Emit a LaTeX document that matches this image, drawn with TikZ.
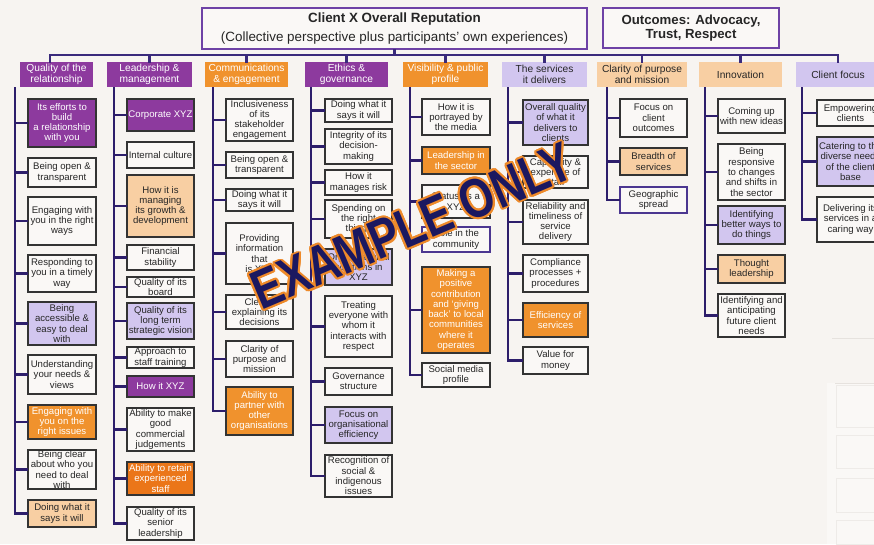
\documentclass[tikz,border=0pt]{standalone}
\usepackage{fontspec}
\setmainfont{Liberation Sans}
\usetikzlibrary{calc}
\definecolor{bg}{HTML}{F7F4F1}
\definecolor{cellbg}{HTML}{FAF8F6}
\definecolor{purp}{HTML}{8D3A9E}
\definecolor{orng}{HTML}{F0922D}
\definecolor{dorng}{HTML}{EB7619}
\definecolor{lav}{HTML}{D2C6EF}
\definecolor{peach}{HTML}{F8CFA3}
\definecolor{linkc}{HTML}{2D1E6B}
\definecolor{busc}{HTML}{3A2A7C}
\definecolor{titlebd}{HTML}{6E42A6}
\definecolor{bdr}{HTML}{333333}
\definecolor{txt}{HTML}{262626}
\definecolor{pbdr}{HTML}{4B3690}
\definecolor{wmn}{HTML}{1B1860}
\definecolor{wmo}{HTML}{EE8A2A}
\definecolor{faint}{HTML}{E6E2DE}
\tikzset{
  cell/.style={draw=bdr, line width=1.3pt, fill=cellbg, text=txt, align=center, inner sep=0pt,
    font=\fontsize{9.6}{10.3}\selectfont},
  cellP/.style={cell, fill=purp, text=white},
  cellO/.style={cell, fill=orng, text=white},
  cellD/.style={cell, fill=dorng, text=white},
  cellL/.style={cell, fill=lav},
  cellK/.style={cell, fill=peach},
  cellB/.style={cell, draw=pbdr},
  hdr/.style={draw=none, align=center, inner sep=0pt, font=\fontsize{10.2}{11}\selectfont},
  hdrP/.style={hdr, fill=purp, text=white},
  hdrO/.style={hdr, fill=orng, text=white},
  hdrL/.style={hdr, fill=lav, text=txt},
  hdrK/.style={hdr, fill=peach, text=txt},
  titlebox/.style={draw=titlebd, line width=2.4pt, fill=cellbg, text=txt, align=center, inner sep=0pt},
  titleA/.style={titlebox, font=\fontsize{13.4}{15}\selectfont},
  titleB/.style={titlebox, font=\fontsize{13.2}{14.5}\selectfont\bfseries},
  link/.style={draw=linkc, line width=2.2pt, line cap=rect},
  bus/.style={draw=busc, line width=2.5pt, line cap=rect},
  wmtext/.style={inner sep=0pt, font=\fontsize{55}{55}\selectfont\bfseries, rotate=23, xscale=0.8},
}
\newcommand\bx[7]{%
  \pgfmathsetmacro\cx{(#2+#4)/2}\pgfmathsetmacro\cy{(#3+#5)/2}%
  \pgfmathsetmacro\bw{#4-#2}\pgfmathsetmacro\bh{#5-#3}%
  \node[#6, minimum width=\bw pt, minimum height=\bh pt] (#1) at (\cx,\cy) {#7};}
\begin{document}
\begin{tikzpicture}[x=1pt,y=-1pt]
\useasboundingbox (0,0) rectangle (874,544);
\fill[bg] (0,0) rectangle (874,544);
% faint background remnants
\draw[faint, line width=0.8pt] (832,338) -- (874,338);
\fill[cellbg] (827,383) rectangle (874,544);
\draw[faint, line width=1pt] (835,383) -- (874,383);
\foreach \a/\b in {385/427,435/468,478/512,520/544}{\draw[faint!60!cellbg, line width=0.8pt] (836,\a) rectangle (880,\b);}
% title boxes
\bx{title}{202}{8}{587}{49}{titleA}{\bfseries Client X Overall Reputation\\[4pt](Collective perspective plus participants’ own experiences)}
\bx{outc}{603}{8}{779}{48}{titleB}{Outcomes: Advocacy,\\Trust, Respect}
% category headers
\bx{h1}{20}{62}{93}{87}{hdrP}{Quality of the\\relationship}
\bx{h2}{107}{62}{192}{87}{hdrP}{Leadership \&\\management}
\bx{h3}{205}{62}{288}{87}{hdrO}{Communications\\\& engagement}
\bx{h4}{305}{62}{388}{87}{hdrP}{Ethics \&\\governance}
\bx{h5}{403}{62}{488}{87}{hdrO}{Visibility \& public\\profile}
\bx{h6}{502}{62}{587}{87}{hdrL}{The services\\it delivers}
\bx{h7}{597}{62}{687}{87}{hdrK}{Clarity of purpose\\and mission}
\bx{h8}{699}{62}{782}{87}{hdrK}{Innovation}
\bx{h9}{796}{62}{880}{87}{hdrL}{Client focus}
% bus
\coordinate (busY) at (0,55);
\draw[bus] (h1.north -| 50,0) -- (50,55) -- (h9.north |- busY) -- (h9.north);
\foreach \h in {h2,h3,h4,h5,h6,h7,h8}{\draw[bus] (\h.north) -- (\h.north |- busY);}
\draw[bus] (title.south) -- (title.south |- busY);
% trunk tops
\coordinate (t1) at (15,88);
\coordinate (t2) at (114,88);
\coordinate (t3) at (213,88);
\coordinate (t4) at (311,88);
\coordinate (t5) at (410,88);
\coordinate (t6) at (508,88);
\coordinate (t7) at (607,88);
\coordinate (t8) at (705,88);
\coordinate (t9) at (802,88);
% column 1
\bx{c1a}{28}{99}{96}{147}{cellP}{Its efforts to\\build\\a relationship\\with you}
\bx{c1b}{28}{158}{96}{187}{cell}{Being open \&\\transparent}
\bx{c1c}{28}{197}{96}{245}{cell}{Engaging with\\you in the right\\ways}
\bx{c1d}{28}{255}{96}{292}{cell}{Responding to\\you in a timely\\way}
\bx{c1e}{28}{302}{96}{345}{cellL}{Being\\accessible \&\\easy to deal\\with}
\bx{c1f}{28}{355}{96}{394}{cell}{Understanding\\your needs \&\\views}
\bx{c1g}{28}{405}{96}{439}{cellO}{Engaging with\\you on the\\right issues}
\bx{c1h}{28}{450}{96}{489}{cell}{Being clear\\about who you\\need to deal\\with}
\bx{c1i}{28}{500}{96}{527}{cellK}{Doing what it\\says it will}
% column 2
\bx{c2a}{127}{99}{194}{131}{cellP}{Corporate XYZ}
\bx{c2b}{127}{142}{194}{168}{cell}{Internal culture}
\bx{c2c}{127}{175}{194}{237}{cellK}{How it is\\managing\\its growth \&\\development}
\bx{c2d}{127}{245}{194}{270}{cell}{Financial\\stability}
\bx{c2e}{127}{277}{194}{297}{cell}{Quality of its\\board}
\bx{c2f}{127}{303}{194}{339}{cellL}{Quality of its\\long term\\strategic vision}
\bx{c2g}{127}{347}{194}{368}{cell}{Approach to\\staff training}
\bx{c2h}{127}{376}{194}{397}{cellP}{How it XYZ}
\bx{c2i}{127}{408}{194}{451}{cell}{Ability to make\\good\\commercial\\judgements}
\bx{c2j}{127}{462}{194}{495}{cellD}{Ability to retain\\experienced\\staff}
\bx{c2k}{127}{507}{194}{540}{cell}{Quality of its\\senior\\leadership}
% column 3
\bx{c3a}{226}{99}{293}{141}{cell}{Inclusiveness\\of its\\stakeholder\\engagement}
\bx{c3b}{226}{152}{293}{178}{cell}{Being open \&\\transparent}
\bx{c3c}{226}{189}{293}{211}{cell}{Doing what it\\says it will}
\bx{c3d}{226}{223}{293}{284}{cell}{Providing\\information\\that\\is XYZ}
\bx{c3e}{226}{295}{293}{329}{cell}{Clearly\\explaining its\\decisions}
\bx{c3f}{226}{341}{293}{377}{cell}{Clarity of\\purpose and\\mission}
\bx{c3g}{226}{387}{293}{435}{cellO}{Ability to\\partner with\\other\\organisations}
% column 4
\bx{c4a}{325}{99}{392}{122}{cell}{Doing what it\\says it will}
\bx{c4b}{325}{129}{392}{164}{cell}{Integrity of its\\decision-\\making}
\bx{c4c}{325}{170}{392}{195}{cell}{How it\\manages risk}
\bx{c4d}{325}{200}{392}{238}{cell}{Spending on\\the right\\things}
\bx{c4e}{325}{249}{392}{285}{cellL}{Organisational\\positions in\\XYZ}
\bx{c4f}{325}{296}{392}{357}{cell}{Treating\\everyone with\\whom it\\interacts with\\respect}
\bx{c4g}{325}{368}{392}{395}{cell}{Governance\\structure}
\bx{c4h}{325}{407}{392}{443}{cellL}{Focus on\\organisational\\efficiency}
\bx{c4i}{325}{455}{392}{497}{cell}{Recognition of\\social \&\\indigenous\\issues}
% column 5
\bx{c5a}{422}{99}{490}{135}{cell}{How it is\\portrayed by\\the media}
\bx{c5b}{422}{147}{490}{174}{cellO}{Leadership in\\the sector}
\bx{c5c}{422}{185}{490}{218}{cell}{Status as a\\XYZ}
\bx{c5d}{422}{227}{490}{252}{cellB}{Role in the\\community}
\bx{c5e}{422}{267}{490}{353}{cellO}{Making a\\positive\\contribution\\and ‘giving\\back’ to local\\communities\\where it\\operates}
\bx{c5f}{422}{363}{490}{387}{cell}{Social media\\profile}
% column 6
\bx{c6a}{523}{100}{588}{145}{cellL}{Overall quality\\of what it\\delivers to\\clients}
\bx{c6b}{523}{156}{588}{188}{cell}{Capability \&\\expertise of\\staff}
\bx{c6c}{523}{200}{588}{244}{cell}{Reliability and\\timeliness of\\service\\delivery}
\bx{c6d}{523}{255}{588}{292}{cell}{Compliance\\processes +\\procedures}
\bx{c6e}{523}{303}{588}{337}{cellO}{Efficiency of\\services}
\bx{c6f}{523}{347}{588}{374}{cell}{Value for\\money}
% column 7
\bx{c7a}{620}{99}{687}{137}{cell}{Focus on\\client\\outcomes}
\bx{c7b}{620}{148}{687}{175}{cellK}{Breadth of\\services}
\bx{c7c}{620}{187}{687}{213}{cellB}{Geographic\\spread}
% column 8
\bx{c8a}{718}{99}{785}{133}{cell}{Coming up\\with new ideas}
\bx{c8b}{718}{144}{785}{200}{cell}{Being\\responsive\\to changes\\and shifts in\\the sector}
\bx{c8c}{718}{206}{785}{244}{cellL}{Identifying\\better ways to\\do things}
\bx{c8d}{718}{255}{785}{283}{cellK}{Thought\\leadership}
\bx{c8e}{718}{294}{785}{337}{cell}{Identifying and\\anticipating\\future client\\needs}
% column 9
\bx{c9a}{817}{100}{884}{126}{cell}{Empowering\\clients}
\bx{c9b}{817}{137}{884}{186}{cellL}{Catering to the\\diverse needs\\of the client\\base}
\bx{c9c}{817}{197}{884}{242}{cell}{Delivering its\\services in a\\caring way}
% connectors
\foreach \col/\lst in {1/{a,b,c,d,e,f,g,h,i},2/{a,b,c,d,e,f,g,h,i,j,k},3/{a,b,c,d,e,f,g},4/{a,b,c,d,e,f,g,h,i},5/{a,b,c,d,e,f},6/{a,b,c,d,e,f},7/{a,b,c},8/{a,b,c,d,e},9/{a,b,c}}{
  \foreach \r in \lst {\draw[link] (c\col\r.west -| t\col) -- (c\col\r.west);}
}
\foreach \col/\last in {1/i,2/k,3/g,4/i,5/f,6/f,7/c,8/e,9/c}{\draw[link] (t\col) -- (c\col\last.west -| t\col);}
% watermark
\coordinate (wmc) at (412,226);
\foreach \a in {0,20,...,340}{\node[wmtext, text=wmo] at ([shift={(\a:2pt)}]wmc) {EXAMPLE ONLY};}
\node[wmtext, text=wmn] (wm) at (wmc) {EXAMPLE ONLY};
\end{tikzpicture}
\end{document}
